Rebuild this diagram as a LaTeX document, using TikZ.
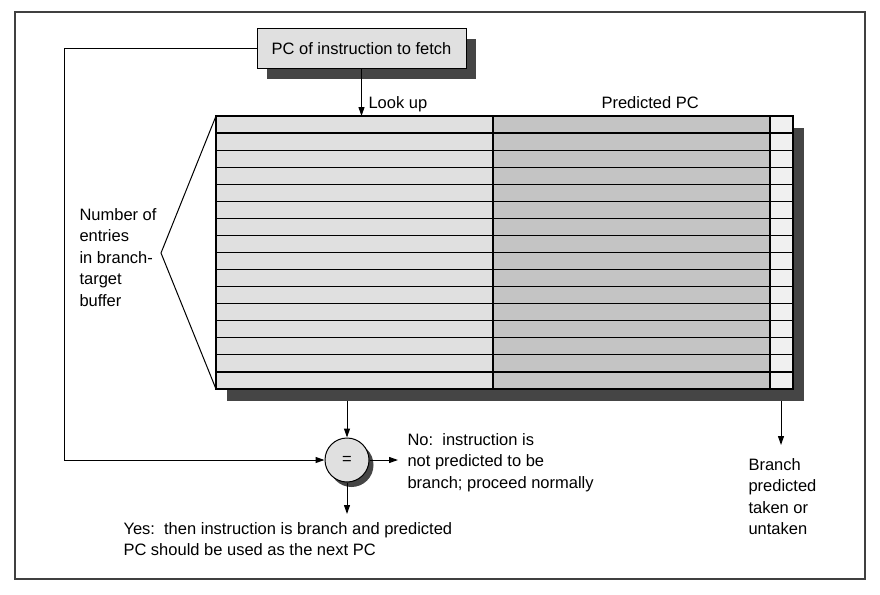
\documentclass[tikz,border=0pt]{standalone}
\usepackage{fontspec}
\setmainfont{Liberation Sans}
\usetikzlibrary{arrows.meta, positioning}

\definecolor{cellA}{gray}{0.88}
\definecolor{cellB}{gray}{0.77}
\definecolor{cellC}{gray}{0.94}
\definecolor{dropgray}{gray}{0.27}

\tikzset{
  lbl/.style={font=\fontsize{16.5}{21.5}\selectfont, inner sep=0pt, align=left, anchor=base west},
  flow/.style={-{Triangle[length=9pt,width=6pt]}, line width=1pt},
}

\begin{document}
\begin{tikzpicture}[x=1pt,y=-1pt,line width=1pt]
  \useasboundingbox (0,0) rectangle (880,594);
  % frame
  \draw[line width=1.4pt, black!75] (15,12) rectangle (865,579);
  % fetch box
  \fill[dropgray] (267,39) rectangle (476,79);
  \node[draw, fill=cellA, minimum width=209pt, minimum height=39pt, inner sep=0pt,
        font=\fontsize{16.5}{21.5}\selectfont] (fetch) at (361.5,48.5) {PC of instruction to fetch};
  % buffer table
  \fill[dropgray] (227,128) rectangle (804,401);
  \fill[cellA] (216,116) rectangle (493,389);
  \fill[cellB] (493,116) rectangle (770,389);
  \fill[cellC] (770,116) rectangle (793,389);
  \foreach \i in {1,...,15}
    \draw[line width=1.2pt] (216,116+\i*17.0625) -- (793,116+\i*17.0625);
  \draw[line width=1.2pt] (216,116) rectangle (793,389);
  \draw[line width=1.2pt] (493,116) -- (493,389);
  \draw[line width=1.2pt] (770,116) -- (770,389);
  % number of entries
  \draw (216,116) -- (161,253) -- (216,389);
  % compare
  \fill[dropgray] (351.5,465) circle (22pt);
  \node[circle, draw, fill=cellA, minimum size=44pt, inner sep=0pt,
        font=\fontsize{16.5}{21.5}\selectfont] (eq) at (347,460) {=};
  % connectors
  \coordinate (lookup) at (361.5,116);
  \coordinate (hit) at (347,401);
  \coordinate (loop) at (64,48.5);
  \coordinate (no) at (398,460);
  \coordinate (yes) at (347,514);
  \coordinate (bit) at (781,401);
  \coordinate (taken) at (781,445);
  \draw[flow] (fetch) -- (lookup);
  \draw[flow] (hit) -- (eq);
  \draw[flow] (fetch.west) -- (loop) |- (eq);
  \draw[flow] (eq) -- (no);
  \draw[flow] (eq) -- (yes);
  \draw[flow] (bit) -- (taken);
  % labels (base = last line)
  \node[lbl] (lookuptxt) at (368,108) {Look up};
  \node[lbl] (predtxt) at (601,108) {Predicted PC};
  \node[lbl] (notxt) at (407,488) {No:\ \ instruction is\\not predicted to be\\branch; proceed normally};
  \node[lbl] (yestxt) at (123,555.5) {Yes:\ \ then instruction is branch and predicted\\PC should be used as the next PC};
  \node[lbl] (takentxt) at (748,534.5) {Branch\\predicted\\taken or\\untaken};
  \node[lbl] (entries) at (79,306) {Number of\\entries\\in branch-\\target\\buffer};
\end{tikzpicture}
\end{document}
